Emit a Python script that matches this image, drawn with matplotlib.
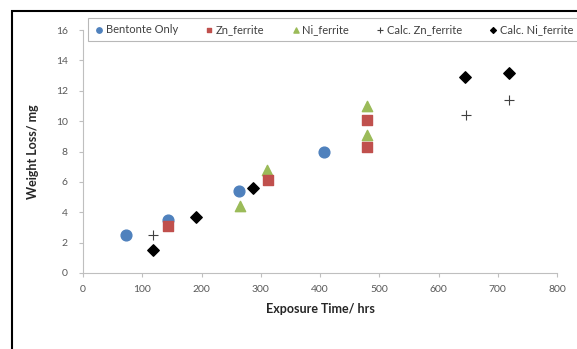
import matplotlib
matplotlib.use('Agg')
import matplotlib.pyplot as plt
from matplotlib.patches import Rectangle

plt.rcParams['font.family'] = ['Lato', 'DejaVu Sans']

# Data
bent_x = [72, 143, 263, 407]
bent_y = [2.5, 3.5, 5.4, 8.0]

zn_x = [143, 312, 479, 479]
zn_y = [3.1, 6.1, 10.1, 8.3]

ni_x = [265, 310, 479, 479]
ni_y = [4.4, 6.8, 11.0, 9.1]

calc_zn_x = [118, 647, 719]
calc_zn_y = [2.5, 10.4, 11.4]

calc_ni_x = [118, 191, 287, 645, 719]
calc_ni_y = [1.5, 3.7, 5.6, 12.9, 13.2]

fig = plt.figure(figsize=(5.77, 3.49), dpi=100)
ax = fig.add_axes([83/577, 1-273/349, (557-83)/577, (273-30)/349])

h1 = ax.scatter(bent_x, bent_y, s=60, marker='o', color='#4F81BD', zorder=3, label='Bentonte Only')
h2 = ax.scatter(zn_x, zn_y, s=42, marker='s', color='#C0504D', zorder=3, label='Zn_ferrite')
h3 = ax.scatter(ni_x, ni_y, s=55, marker='^', color='#9BBB59', zorder=2, label='Ni_ferrite')
h4 = ax.scatter(calc_zn_x, calc_zn_y, s=60, marker='+', color='#404040', linewidths=0.8, zorder=3, label='Calc. Zn_ferrite')
h5 = ax.scatter(calc_ni_x, calc_ni_y, s=34, marker='D', color='black', zorder=3, label='Calc. Ni_ferrite')

ax.set_xlim(0, 800)
ax.set_ylim(0, 16)
ax.set_xticks(range(0, 801, 100))
ax.set_yticks(range(0, 17, 2))
for s in ['top', 'right']:
    ax.spines[s].set_visible(False)
for s in ['left', 'bottom']:
    ax.spines[s].set_color('#BFBFBF')
ax.tick_params(axis='both', colors='#BFBFBF', labelcolor='#595959', labelsize=7.5, length=3, direction='out')
ax.tick_params(axis='y', pad=8)
ax.tick_params(axis='x', pad=6)

ax.set_xlabel('Exposure Time/ hrs', fontsize=9, fontweight='bold', color='#262626', labelpad=6)
ax.set_ylabel('Weight Loss/ mg', fontsize=9, fontweight='bold', color='#262626', labelpad=12)

leg = fig.legend(handles=[h1, h2, h3, h4, h5], loc='upper left', ncol=5,
                 bbox_to_anchor=(82/577, 1-12/349), fontsize=8, frameon=True,
                 fancybox=False, edgecolor='#A6A6A6', handletextpad=0.1,
                 columnspacing=2.3, borderpad=0.55, markerscale=0.5, handlelength=1.0)
leg.get_frame().set_linewidth(0.8)
for t in leg.get_texts():
    t.set_color('#404040')

# outer chart border
fig.patches.append(Rectangle((12/577, -0.1), 1.2, 1.1 - 11/349, transform=fig.transFigure,
                             fill=False, edgecolor='black', linewidth=1.5))

fig.savefig('out.png', dpi=100)
